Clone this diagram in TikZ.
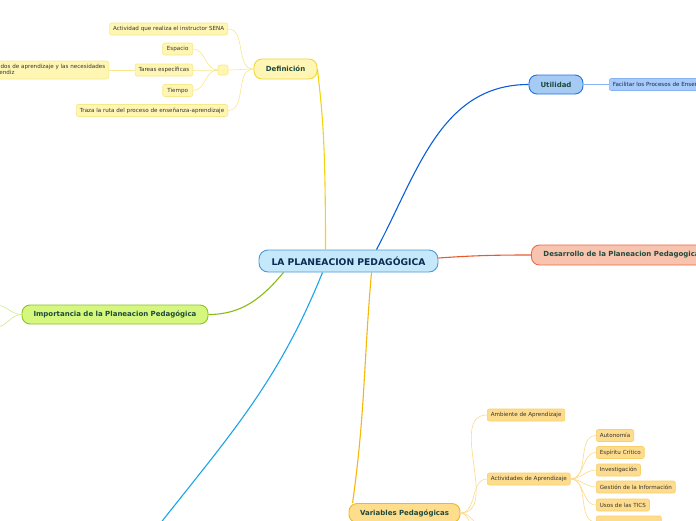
\documentclass[tikz,border=0pt]{standalone}
\usepackage{fontspec}
\setmainfont{DejaVu Sans}
\usepackage{tikz}
\usetikzlibrary{positioning}

\definecolor{maintext}{HTML}{0E2A52}
\definecolor{topictext}{HTML}{1F4A3C}
\definecolor{leaftext}{HTML}{333333}
\definecolor{mainfill}{HTML}{C6E8FB}
\definecolor{mainline}{HTML}{4A9AD6}
\definecolor{deffill}{HTML}{FFF5B5}
\definecolor{defline}{HTML}{F0D83A}
\definecolor{utilfill}{HTML}{A5CBF5}
\definecolor{utilline}{HTML}{2272DC}
\definecolor{facfill}{HTML}{A8CBFA}
\definecolor{facline}{HTML}{86B4F2}
\definecolor{desfill}{HTML}{F8C4B0}
\definecolor{desline}{HTML}{EC6A3E}
\definecolor{impfill}{HTML}{D6F77E}
\definecolor{impline}{HTML}{8FC224}
\definecolor{varfill}{HTML}{FEDD8C}
\definecolor{varline}{HTML}{F5B719}
\definecolor{defleaffill}{HTML}{FFF6B4}
\definecolor{defleafline}{HTML}{F6E98A}
\definecolor{varleaffill}{HTML}{FEDC8E}
\definecolor{varleafline}{HTML}{F9CF6A}
\definecolor{deflink}{HTML}{F2D410}
\definecolor{utillink}{HTML}{0B5FD6}
\definecolor{deslink}{HTML}{E8592C}
\definecolor{implink}{HTML}{8ABB14}
\definecolor{skylink}{HTML}{1AA3EA}
\definecolor{varlink}{HTML}{F6B60A}
\definecolor{defleaflink}{HTML}{F7E88A}
\definecolor{varleaflink}{HTML}{FDD98A}
\definecolor{impleaflink}{HTML}{CDE98C}

\begin{document}
\begin{tikzpicture}[
x=1pt, y=1pt,
topic/.style={rounded corners=8pt, line width=0.9pt, minimum height=19pt, inner xsep=9pt, font=\fontsize{7}{8}\selectfont\bfseries, text=topictext},
leaf/.style={rounded corners=2pt, line width=0.6pt, minimum height=12pt, inner xsep=3.5pt, inner ysep=1pt, font=\fontsize{5.6}{6.4}\selectfont, text=leaftext},
defleaf/.style={leaf, draw=defleafline, fill=defleaffill},
varleaf/.style={leaf, draw=varleafline, fill=varleaffill},
link/.style={line width=1.1pt},
leaflink/.style={line width=0.6pt}
]
\useasboundingbox (0,0) rectangle (696,-520);
\clip (0,0) rectangle (696,-520);

\node[topic, draw=mainline, fill=mainfill, minimum width=179pt, minimum height=22pt, rounded corners=9pt, text=maintext, font=\fontsize{9.2}{10}\selectfont\bfseries] (plan) at (348.5,-261) {LA PLANEACION PEDAGÓGICA};

\node[topic, draw=defline, fill=deffill, minimum width=63pt, minimum height=20pt] (def) at (285.5,-69) {Definición};
\node[defleaf, anchor=east] (instr) at (228,-29) {Actividad que realiza el instructor SENA};
\node[defleaf, anchor=east, minimum width=30pt] (esp) at (193,-49) {Espacio};
\node[defleaf, anchor=east] (tar) at (193,-70) {Tareas específicas};
\node[defleaf, anchor=east, minimum width=30pt] (tie) at (193,-90.5) {Tiempo};
\node[defleaf, minimum width=10pt, minimum height=10pt] (hub) at (223,-70) {};
\node[defleaf, anchor=east] (ruta) at (228,-110.5) {Traza la ruta del proceso de enseñanza-aprendizaje};
\node[defleaf, anchor=east, align=left, minimum height=18pt] (res) at (109,-70) {Resultados de aprendizaje y las necesidades\\del aprendiz};

\node[topic, draw=utilline, fill=utilfill, minimum width=54pt] (util) at (556,-84.5) {Utilidad};
\node[leaf, draw=facline, fill=facfill, anchor=west, text=maintext] (fac) at (609,-84.5) {Facilitar los Procesos de Enseñanza-Aprendizaje};

\node[topic, draw=desline, fill=desfill, anchor=west, minimum height=20pt, inner xsep=12pt] (des) at (531,-255) {Desarrollo de la Planeacion Pedagogica};

\node[topic, draw=impline, fill=impfill, minimum width=186pt] (imp) at (115,-314.5) {Importancia de la Planeacion Pedagógica};

\node[topic, draw=varline, fill=varfill, minimum width=111pt] (var) at (404.5,-513) {Variables Pedagógicas};
\node[varleaf, anchor=west] (amb) at (487,-415) {Ambiente de Aprendizaje};
\node[varleaf, anchor=west] (acts) at (487,-479) {Actividades de Aprendizaje};
\node[varleaf, anchor=west] (auto) at (596,-435.5) {Autonomía};
\node[varleaf, anchor=west] (crit) at (596,-452.5) {Espíritu Crítico};
\node[varleaf, anchor=west] (inv) at (596,-470) {Investigación};
\node[varleaf, anchor=west] (gest) at (596,-487) {Gestión de la Información};
\node[varleaf, anchor=west] (tics) at (596,-505) {Usos de las TICS};
\node[varleaf, anchor=west, minimum width=65pt] (next) at (596,-522) {};

\coordinate (impa) at (-4,-305);
\coordinate (impb) at (-4,-327);
\coordinate (skyend) at (152,-534);
\coordinate (vara) at (472,-536);
\coordinate (varb) at (482,-536);

\draw[link, deflink] ([xshift=-23pt]plan.north) .. controls +(0,110) and +(5,-45) .. (def.east);
\draw[link, utillink] ([xshift=28pt]plan.north) to[out=62, in=180] (util.west);
\draw[link, deslink] ([yshift=3pt]plan.east) to[out=4, in=180] (des.west);
\draw[link, implink] ([xshift=-65pt]plan.south) to[out=-130, in=0] (imp.east);
\draw[link, skylink] ([xshift=-26pt]plan.south) to[out=-112, in=52] (skyend);
\draw[link, varlink] ([xshift=23pt]plan.south) to[out=-95, in=82] ([xshift=4pt]var.north west);

\draw[leaflink, defleaflink] (def.west) to[out=180, in=0] (instr.east);
\draw[leaflink, defleaflink] (def.west) to[out=180, in=0] (hub.east);
\draw[leaflink, defleaflink] (def.west) to[out=180, in=0] (ruta.east);
\draw[leaflink, defleaflink] (hub.west) to[out=180, in=0] (esp.east);
\draw[leaflink, defleaflink] (hub.west) to[out=180, in=0] (tar.east);
\draw[leaflink, defleaflink] (hub.west) to[out=180, in=0] (tie.east);
\draw[leaflink, defleaflink] (tar.west) -- (res.east);

\draw[link, facline] (util.east) -- (fac.west);

\draw[leaflink, impleaflink] (imp.west) to[out=180, in=0] (impa);
\draw[leaflink, impleaflink] (imp.west) to[out=180, in=0] (impb);

\draw[leaflink, varleaflink] (var.east) to[out=0, in=180] (amb.west);
\draw[leaflink, varleaflink] (var.east) to[out=0, in=180] (acts.west);
\draw[leaflink, varleaflink] (var.east) to[out=-10, in=100] (vara);
\draw[leaflink, varleaflink] (var.east) to[out=-5, in=120] (varb);
\foreach \k in {auto,crit,inv,gest,tics,next}
  \draw[leaflink, varleaflink] (acts.east) to[out=0, in=180] (\k.west);
\end{tikzpicture}
\end{document}
